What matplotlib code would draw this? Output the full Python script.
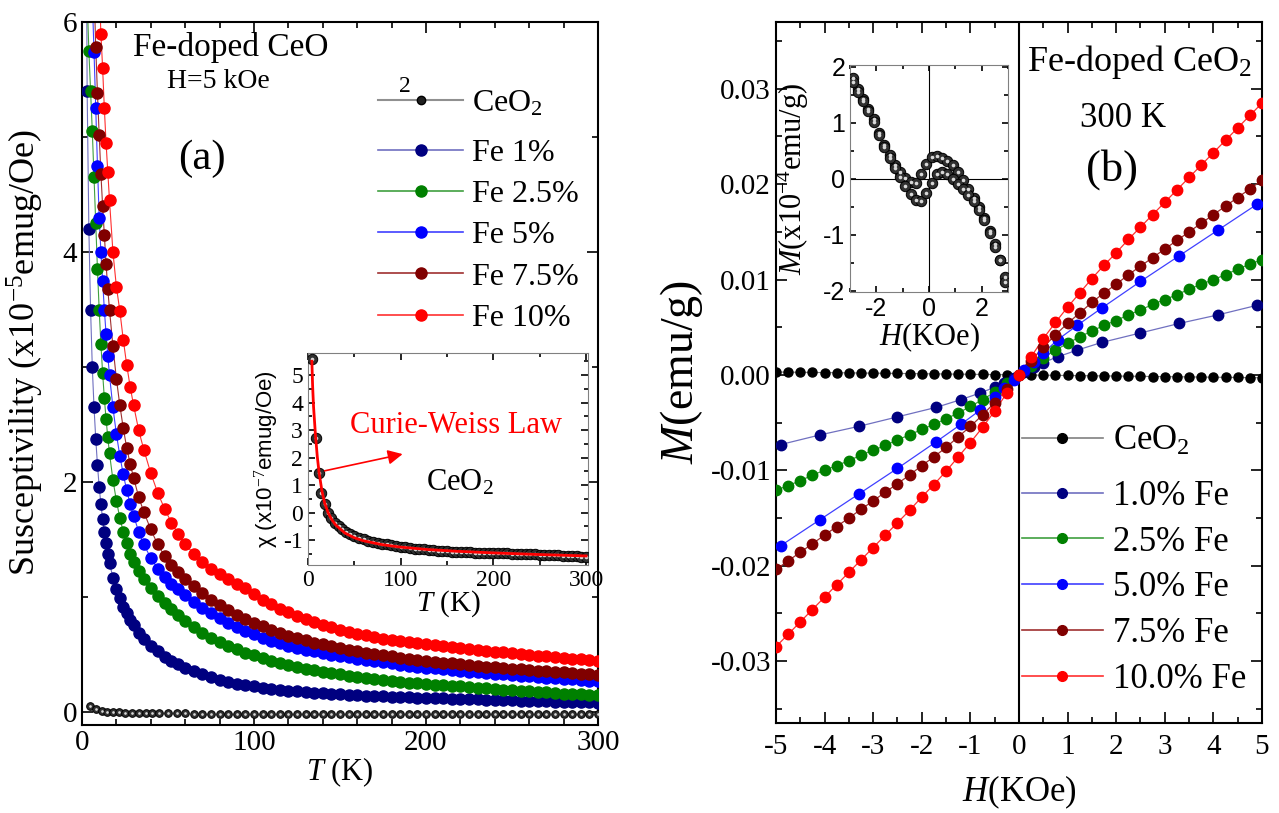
import matplotlib
matplotlib.use("Agg")
import matplotlib.pyplot as plt
from matplotlib.lines import Line2D
from matplotlib.ticker import MultipleLocator, FormatStrFormatter

plt.rcParams['font.family'] = ['Liberation Serif', 'DejaVu Serif']
plt.rcParams['mathtext.fontset'] = 'custom'
plt.rcParams['mathtext.rm'] = 'Liberation Serif'
plt.rcParams['mathtext.it'] = 'Liberation Serif:italic'
plt.rcParams['mathtext.bf'] = 'Liberation Serif:bold'
plt.rcParams['axes.unicode_minus'] = False

# ---------------- panel (a): susceptibility vs T (x1e-5 emu/g Oe) ----------------
temp = [2, 3, 4, 5, 6, 7, 8, 9, 10, 11, 12, 13, 14, 15, 16, 18, 20, 22, 24, 26, 28, 30,
        33, 36, 40, 44, 48, 52, 56, 60, 65, 70, 75, 80, 85, 90, 95, 100, 105, 110, 115,
        120, 125, 130, 135, 140, 145, 150, 155, 160, 165, 170, 175, 180, 185, 190, 195,
        200, 205, 210, 215, 220, 225, 230, 235, 240, 245, 250, 255, 260, 265, 270, 275,
        280, 285, 290, 295, 300]

chi_fe1 = [8.5, 5.4, 4.2, 3.5, 3.0, 2.65, 2.38, 2.15, 1.96, 1.81, 1.68, 1.57, 1.47, 1.38, 1.30,
           1.17, 1.07, 0.99, 0.92, 0.86, 0.80, 0.76, 0.69, 0.64, 0.58, 0.53, 0.48, 0.45, 0.42,
           0.39, 0.36, 0.33, 0.31, 0.285, 0.265, 0.25, 0.235, 0.225, 0.215, 0.205, 0.195,
           0.19, 0.183, 0.177, 0.172, 0.167, 0.162, 0.158, 0.154, 0.150, 0.146, 0.143, 0.140,
           0.137, 0.134, 0.131, 0.128, 0.125, 0.123, 0.121, 0.118, 0.116, 0.114, 0.112, 0.110,
           0.108, 0.106, 0.104, 0.102, 0.100, 0.098, 0.096, 0.094, 0.092, 0.090, 0.088, 0.086,
           0.084]
chi_fe25 = [7.0, 6.2, 5.75, 5.40, 5.05, 4.65, 4.25, 3.85, 3.50, 3.20, 2.95, 2.73, 2.55, 2.39,
            2.25, 2.02, 1.84, 1.69, 1.57, 1.47, 1.38, 1.31, 1.23, 1.16, 1.08, 1.01, 0.95, 0.90,
            0.85, 0.79, 0.74, 0.69, 0.645, 0.61, 0.58, 0.55, 0.52, 0.495, 0.47, 0.45, 0.43,
            0.41, 0.395, 0.38, 0.365, 0.352, 0.34, 0.33, 0.32, 0.31, 0.30, 0.29, 0.28, 0.272,
            0.265, 0.258, 0.252, 0.245, 0.24, 0.235, 0.23, 0.225, 0.22, 0.214, 0.208, 0.203,
            0.198, 0.193, 0.188, 0.183, 0.178, 0.173, 0.168, 0.164, 0.16, 0.157, 0.153, 0.15]
chi_fe5 = [9.0, 8.2, 7.4, 6.7, 6.2, 5.74, 5.25, 4.75, 4.30, 4.00, 3.75, 3.50, 3.29, 3.10, 2.93,
           2.65, 2.42, 2.23, 2.07, 1.93, 1.81, 1.71, 1.57, 1.46, 1.34, 1.25, 1.18, 1.12, 1.07,
           1.02, 0.96, 0.91, 0.86, 0.82, 0.78, 0.74, 0.71, 0.68, 0.65, 0.62, 0.60, 0.58, 0.56,
           0.545, 0.53, 0.515, 0.50, 0.49, 0.478, 0.466, 0.455, 0.445, 0.435, 0.425, 0.416,
           0.407, 0.398, 0.39, 0.383, 0.376, 0.369, 0.362, 0.355, 0.349, 0.343, 0.337, 0.331,
           0.325, 0.319, 0.313, 0.307, 0.302, 0.297, 0.292, 0.287, 0.282, 0.277, 0.272]
chi_fe75 = [10.0, 9.2, 8.4, 7.6, 6.9, 6.3, 5.78, 5.38, 5.02, 4.68, 4.40, 4.15, 3.90, 3.68, 3.50,
            3.18, 2.90, 2.67, 2.47, 2.30, 2.16, 2.04, 1.87, 1.74, 1.59, 1.46, 1.36, 1.28, 1.22,
            1.16, 1.10, 1.04, 0.98, 0.935, 0.89, 0.85, 0.81, 0.78, 0.75, 0.72, 0.69, 0.665,
            0.645, 0.625, 0.605, 0.59, 0.575, 0.56, 0.546, 0.533, 0.52, 0.508, 0.497, 0.486,
            0.476, 0.466, 0.457, 0.448, 0.44, 0.432, 0.425, 0.418, 0.411, 0.404, 0.397, 0.391,
            0.385, 0.379, 0.373, 0.367, 0.362, 0.357, 0.352, 0.347, 0.342, 0.337, 0.333, 0.329]
chi_fe10 = [12.0, 11.0, 10.2, 9.5, 8.8, 8.1, 7.4, 6.8, 6.3, 5.9, 5.6, 5.25, 4.95, 4.70, 4.45,
            4.00, 3.70, 3.49, 3.24, 3.02, 2.83, 2.67, 2.45, 2.28, 2.08, 1.91, 1.77, 1.65, 1.55,
            1.46, 1.38, 1.31, 1.25, 1.20, 1.16, 1.12, 1.08, 1.03, 0.98, 0.94, 0.90, 0.87, 0.84,
            0.81, 0.785, 0.76, 0.74, 0.72, 0.70, 0.685, 0.67, 0.655, 0.64, 0.63, 0.62, 0.61,
            0.60, 0.59, 0.582, 0.574, 0.566, 0.558, 0.55, 0.543, 0.536, 0.529, 0.522, 0.515,
            0.508, 0.501, 0.494, 0.487, 0.48, 0.474, 0.468, 0.462, 0.456, 0.45]

# CeO2 (x1e-7 emu/g Oe) used in inset, and /100 in main panel
temp_ceo2 = [4.6, 8.2, 11.4, 14.3, 17.9, 21.4, 25, 29, 33, 37, 41, 45, 50, 55, 60, 65, 70, 75,
             80, 85, 90, 95, 100, 105, 110, 115, 120, 125, 130, 135, 140, 145, 150, 155, 160,
             165, 170, 175, 180, 185, 190, 195, 200, 205, 210, 215, 220, 225, 230, 235, 240,
             245, 250, 255, 260, 265, 270, 275, 280, 285, 290, 295, 300]
chi_ceo2 = [5.57, 2.72, 1.44, 0.73, 0.30, 0.0, -0.20, -0.36, -0.49, -0.60, -0.69, -0.77, -0.85,
            -0.92, -0.97, -1.01, -1.05, -1.09, -1.12, -1.15, -1.18, -1.21, -1.24, -1.26, -1.28,
            -1.30, -1.32, -1.33, -1.35, -1.36, -1.38, -1.39, -1.40, -1.41, -1.42, -1.43, -1.43,
            -1.44, -1.45, -1.45, -1.46, -1.46, -1.47, -1.47, -1.48, -1.48, -1.49, -1.49, -1.50,
            -1.50, -1.51, -1.51, -1.52, -1.52, -1.53, -1.54, -1.55, -1.56, -1.57, -1.58, -1.59,
            -1.60, -1.61]
temp_fit = [4.2, 5, 6, 8, 10, 12, 15, 18, 22, 26, 30, 40, 50, 60, 80, 100, 130, 160, 200, 250, 300]
chi_fit = [5.5, 4.6, 3.85, 2.85, 2.05, 1.45, 0.80, 0.35, -0.02, -0.27, -0.45, -0.74, -0.91,
           -1.02, -1.16, -1.25, -1.34, -1.40, -1.46, -1.52, -1.57]

# ---------------- panel (b): M vs H at 300 K ----------------
h_field = [-5.0, -4.75, -4.5, -4.25, -4.0, -3.75, -3.5, -3.25, -3.0, -2.75, -2.5, -2.25, -2.0,
           -1.75, -1.5, -1.25, -1.0, -0.75, -0.5, -0.25, 0.0, 0.25, 0.5, 0.75, 1.0, 1.25, 1.5,
           1.75, 2.0, 2.25, 2.5, 2.75, 3.0, 3.25, 3.5, 3.75, 4.0, 4.25, 4.5, 4.75, 5.0]
h_sparse = [-4.9, -4.1, -3.3, -2.5, -1.7, -1.2, -0.8, -0.5, -0.3, -0.1, 0.1, 0.3, 0.5, 0.8, 1.2,
            1.7, 2.5, 3.3, 4.1, 4.9]
m_ceo2 = [0.00030, 0.00029, 0.00027, 0.00026, 0.00024, 0.00023, 0.00021, 0.00020, 0.00018,
          0.00017, 0.00015, 0.00014, 0.00012, 0.00011, 0.00009, 0.00008, 0.00006, 0.00005,
          0.00003, 0.00002, 0.0, -0.00002, -0.00003, -0.00005, -0.00006, -0.00008, -0.00009,
          -0.00011, -0.00012, -0.00014, -0.00015, -0.00017, -0.00018, -0.00020, -0.00021,
          -0.00023, -0.00024, -0.00026, -0.00027, -0.00029, -0.00030]
m_fe1 = [-0.0073, -0.0063, -0.0054, -0.0044, -0.0034, -0.0026, -0.0019, -0.0013, -0.0008,
         -0.0003, 0.0003, 0.0008, 0.0013, 0.0019, 0.0026, 0.0034, 0.0044, 0.0054, 0.0063, 0.0073]
m_fe25 = [-0.0121, -0.0116, -0.0111, -0.0105, -0.0100, -0.0095, -0.0090, -0.0084, -0.0079,
          -0.0074, -0.0068, -0.0063, -0.0057, -0.0052, -0.0046, -0.0040, -0.0033, -0.0026,
          -0.0018, -0.0009, 0.0, 0.0009, 0.0018, 0.0026, 0.0033, 0.0040, 0.0046, 0.0052,
          0.0057, 0.0063, 0.0068, 0.0074, 0.0079, 0.0084, 0.0090, 0.0095, 0.0100, 0.0105,
          0.0111, 0.0116, 0.0121]
m_fe5 = [-0.0179, -0.0152, -0.0125, -0.0098, -0.0070, -0.0052, -0.0037, -0.0023, -0.0014,
         -0.0005, 0.0005, 0.0014, 0.0023, 0.0037, 0.0052, 0.0070, 0.0098, 0.0125, 0.0152, 0.0179]
m_fe75 = [-0.0204, -0.0195, -0.0186, -0.0177, -0.0168, -0.0159, -0.0150, -0.0141, -0.0132,
          -0.0123, -0.0114, -0.0105, -0.0095, -0.0086, -0.0076, -0.0065, -0.0054, -0.0042,
          -0.0029, -0.0015, 0.0, 0.0015, 0.0029, 0.0042, 0.0054, 0.0065, 0.0076, 0.0086,
          0.0095, 0.0105, 0.0114, 0.0123, 0.0132, 0.0141, 0.0150, 0.0159, 0.0168, 0.0177,
          0.0186, 0.0195, 0.0204]
m_fe10 = [-0.0285, -0.0272, -0.0259, -0.0246, -0.0233, -0.0220, -0.0207, -0.0194, -0.0181,
          -0.0168, -0.0155, -0.0142, -0.0128, -0.0115, -0.0101, -0.0086, -0.0071, -0.0055,
          -0.0038, -0.0019, 0.0, 0.0019, 0.0038, 0.0055, 0.0071, 0.0086, 0.0101, 0.0115,
          0.0128, 0.0142, 0.0155, 0.0168, 0.0181, 0.0194, 0.0207, 0.0220, 0.0233, 0.0246,
          0.0259, 0.0272, 0.0285]

# inset (b): CeO2 loop (x1e-4 emu/g)
h_loop = [-2.9, -2.7, -2.5, -2.3, -2.1, -1.9, -1.7, -1.5, -1.3, -1.1, -0.9, -0.7, -0.5, -0.3,
          -0.1, 0.1, 0.3, 0.5, 0.7, 0.9, 1.1, 1.3, 1.5, 1.7, 1.9, 2.1, 2.3, 2.5, 2.7, 2.9]
m_loop_up = [1.80, 1.60, 1.42, 1.25, 1.06, 0.82, 0.60, 0.42, 0.25, 0.12, 0.02, -0.06, -0.07,
             0.08, 0.27, 0.39, 0.41, 0.37, 0.32, 0.24, 0.12, -0.03, -0.18, -0.34, -0.50, -0.70,
             -0.93, -1.17, -1.45, -1.76]
m_loop_down = [1.72, 1.55, 1.38, 1.21, 1.02, 0.79, 0.57, 0.38, 0.20, 0.03, -0.13, -0.27, -0.37,
               -0.39, -0.26, -0.07, 0.08, 0.12, 0.08, 0.0, -0.10, -0.19, -0.29, -0.40, -0.55,
               -0.74, -0.97, -1.22, -1.45, -1.84]

fe_colors = ['#000080', '#008000', '#0000ff', '#800000', '#ff0000']
fe_lines = ['#7070c0', '#40a040', '#4040ff', '#a03030', '#ff3030']


def balls(ax, x, y, ms, z=3):
    # black spheres with a light highlight
    ax.plot(x, y, 'o', ms=ms, mfc='#303030', mec='black', mew=0.7, zorder=z)
    ax.plot(x, y, 'o', ms=ms * 0.35, mfc='#d8d8d8', mec='none', zorder=z + 0.1)


def style_ticks(ax, size, major=8, minor=4):
    ax.tick_params(which='both', direction='in', top=True, right=True, labelsize=size, width=1.2)
    ax.tick_params(which='major', length=major)
    ax.tick_params(which='minor', length=minor)


fig = plt.figure(figsize=(12.79, 8.13), dpi=100)
ax_a = fig.add_axes([0.0641, 0.1082, 0.4034, 0.8647])
ax_b = fig.add_axes([0.6067, 0.1107, 0.3800, 0.8622])
ins_a = fig.add_axes([0.2408, 0.3050, 0.2189, 0.2608])
ins_b = fig.add_axes([0.6646, 0.6408, 0.1235, 0.2792])

# ---- panel (a)
balls(ax_a, temp_ceo2, [v / 100 for v in chi_ceo2], 5.5)
chi_sets = [chi_fe1, chi_fe25, chi_fe5, chi_fe75, chi_fe10]
for vals, c, lc in zip(chi_sets, fe_colors, fe_lines):
    ax_a.plot(temp, vals, '-', color=lc, lw=0.8, zorder=2)
    ax_a.plot(temp, vals, 'o', color=c, ms=8, mec=c, zorder=3)
ax_a.set_xlim(0, 300)
ax_a.set_ylim(-0.11, 6)
ax_a.xaxis.set_major_locator(MultipleLocator(100))
ax_a.xaxis.set_minor_locator(MultipleLocator(20))
ax_a.yaxis.set_major_locator(MultipleLocator(2))
ax_a.yaxis.set_minor_locator(MultipleLocator(1))
style_ticks(ax_a, 21)
for s in ax_a.spines.values():
    s.set_linewidth(1.5)
ax_a.set_xlabel('$T$ (K)', fontsize=22, labelpad=0)
ax_a.set_ylabel('Susceptivility (x10$^{-5}$emug/Oe)', fontsize=26)
ax_a.yaxis.set_label_coords(-0.07, 0.53)

h_ceo2_a = Line2D([], [], color='#909090', lw=1.5, marker='o', ms=6, mfc='#202020', mec='black')
leg_a0 = ax_a.legend([h_ceo2_a], ['CeO$_2$'], loc='center left', bbox_to_anchor=(0.574, 0.884),
                     frameon=False, fontsize=23, handlelength=2.66, handletextpad=0.28,
                     borderaxespad=0, borderpad=0)
ax_a.add_artist(leg_a0)
handles_a = [Line2D([], [], color=lc, lw=1.2, marker='o', ms=8, mfc=c, mec=c)
             for c, lc in zip(fe_colors, fe_lines)]
labels_a = ['Fe 1%', 'Fe 2.5%', 'Fe 5%', 'Fe 7.5%', 'Fe 10%']
ax_a.legend(handles_a, labels_a, loc='upper left', bbox_to_anchor=(0.574, 0.834), frameon=False,
            fontsize=23, handlelength=2.66, handletextpad=0.28, labelspacing=0.37,
            borderaxespad=0, borderpad=0)
ax_a.text(0.099, 0.964, 'Fe-doped CeO', transform=ax_a.transAxes, fontsize=24, va='center')
ax_a.text(0.626, 0.909, '2', transform=ax_a.transAxes, fontsize=17, ha='center', va='center')
ax_a.text(0.264, 0.915, 'H=5 kOe', transform=ax_a.transAxes, fontsize=20, ha='center', va='center')
ax_a.text(0.233, 0.806, '(a)', transform=ax_a.transAxes, fontsize=31, ha='center', va='center')

# ---- inset (a)
balls(ins_a, temp_ceo2, chi_ceo2, 7.5)
ins_a.plot(temp_fit, chi_fit, '-', color='red', lw=2, zorder=5)
ins_a.annotate('', xy=(105, 2.15), xytext=(15, 1.5),
               arrowprops=dict(arrowstyle='-|>', color='red', lw=1.2, mutation_scale=22))
ins_a.text(160, 3.15, 'Curie-Weiss Law', color='red', fontsize=22, ha='center', va='center')
ins_a.text(164, 1.1, 'CeO$_2$', fontsize=22, ha='center', va='center')
ins_a.set_xlim(0, 302)
ins_a.set_ylim(-1.9, 5.8)
ins_a.xaxis.set_major_locator(MultipleLocator(100))
ins_a.xaxis.set_minor_locator(MultipleLocator(50))
ins_a.yaxis.set_major_locator(MultipleLocator(1))
ins_a.yaxis.set_minor_locator(MultipleLocator(0.5))
style_ticks(ins_a, 17, major=5, minor=3)
for s in ins_a.spines.values():
    s.set_color('#808080')
ins_a.set_xlabel('$T$ (K)', fontsize=21, labelpad=-2)
ins_a.set_ylabel('\u03c7 (x10$^{-7}$emug/Oe)', fontsize=16, family='Liberation Sans', labelpad=2)

# ---- panel (b)
ax_b.axvline(0, color='black', lw=1.5, zorder=1)
ax_b.plot(h_field, m_ceo2, '-', color='#808080', lw=0.8, zorder=2)
ax_b.plot(h_field, m_ceo2, 'o', color='black', ms=6.5, zorder=3)
m_sets = [(h_sparse, m_fe1), (h_field, m_fe25), (h_sparse, m_fe5), (h_field, m_fe75),
          (h_field, m_fe10)]
for (hx, vals), c, lc in zip(m_sets, fe_colors, fe_lines):
    ax_b.plot(hx, vals, '-', color=lc, lw=0.9, zorder=2)
    ax_b.plot(hx, vals, 'o', color=c, ms=7.5, mec=c, zorder=3)
ax_b.set_xlim(-5, 5)
ax_b.set_ylim(-0.0365, 0.037)
ax_b.xaxis.set_major_locator(MultipleLocator(1))
ax_b.xaxis.set_minor_locator(MultipleLocator(0.5))
ax_b.yaxis.set_major_locator(MultipleLocator(0.01))
ax_b.yaxis.set_minor_locator(MultipleLocator(0.005))
ax_b.yaxis.set_major_formatter(FormatStrFormatter('%.2f'))
style_ticks(ax_b, 21)
ax_b.tick_params(axis='x', pad=8)
for s in ax_b.spines.values():
    s.set_linewidth(1.5)
ax_b.set_xlabel('$H$(KOe)', fontsize=25, labelpad=10)
ax_b.set_ylabel('$M$(emu/g)', fontsize=33)
ax_b.yaxis.set_label_coords(-0.146, 0.5)

h_ceo2_b = Line2D([], [], color='#808080', lw=1.2, marker='o', ms=7, mfc='black', mec='black')
leg_b0 = ax_b.legend([h_ceo2_b], ['CeO$_2$'], loc='center left', bbox_to_anchor=(0.506, 0.402),
                     frameon=False, fontsize=25, handlelength=2.33, handletextpad=0.29,
                     borderaxespad=0, borderpad=0)
ax_b.add_artist(leg_b0)
handles_b = [Line2D([], [], color=lc, lw=1.2, marker='o', ms=7, mfc=c, mec=c)
             for c, lc in zip(fe_colors, fe_lines)]
labels_b = ['1.0% Fe', '2.5% Fe', '5.0% Fe', '7.5% Fe', '10.0% Fe']
ax_b.legend(handles_b, labels_b, loc='upper left', bbox_to_anchor=(0.506, 0.347), frameon=False,
            fontsize=25, handlelength=2.33, handletextpad=0.29, labelspacing=0.37,
            borderaxespad=0, borderpad=0)
ax_b.text(0.516, 0.943, 'Fe-doped CeO$_2$', transform=ax_b.transAxes, fontsize=26, va='center')
ax_b.text(0.714, 0.863, '300 K', transform=ax_b.transAxes, fontsize=25, ha='center', va='center')
ax_b.text(0.691, 0.79, '(b)', transform=ax_b.transAxes, fontsize=32, ha='center', va='center')

# ---- inset (b)
ins_b.axhline(0, color='black', lw=0.8, zorder=1)
ins_b.axvline(0, color='black', lw=0.8, zorder=1)
balls(ins_b, h_loop, m_loop_up, 7.5)
balls(ins_b, h_loop, m_loop_down, 7.5)
ins_b.set_xlim(-3, 3)
ins_b.set_ylim(-2.02, 2.03)
ins_b.xaxis.set_major_locator(MultipleLocator(2))
ins_b.xaxis.set_minor_locator(MultipleLocator(1))
ins_b.yaxis.set_major_locator(MultipleLocator(1))
ins_b.yaxis.set_minor_locator(MultipleLocator(0.5))
style_ticks(ins_b, 18, major=4, minor=3)
ins_b.tick_params(labelfontfamily='Liberation Sans')
for s in ins_b.spines.values():
    s.set_color('#808080')
ins_b.set_xlabel('$H$(KOe)', fontsize=22, labelpad=0)
ins_b.set_ylabel('$M$(x10$^{-4}$emu/g)', fontsize=22)
ins_b.yaxis.set_label_coords(-0.25, 0.5)

fig.savefig('out.png', dpi=100)
